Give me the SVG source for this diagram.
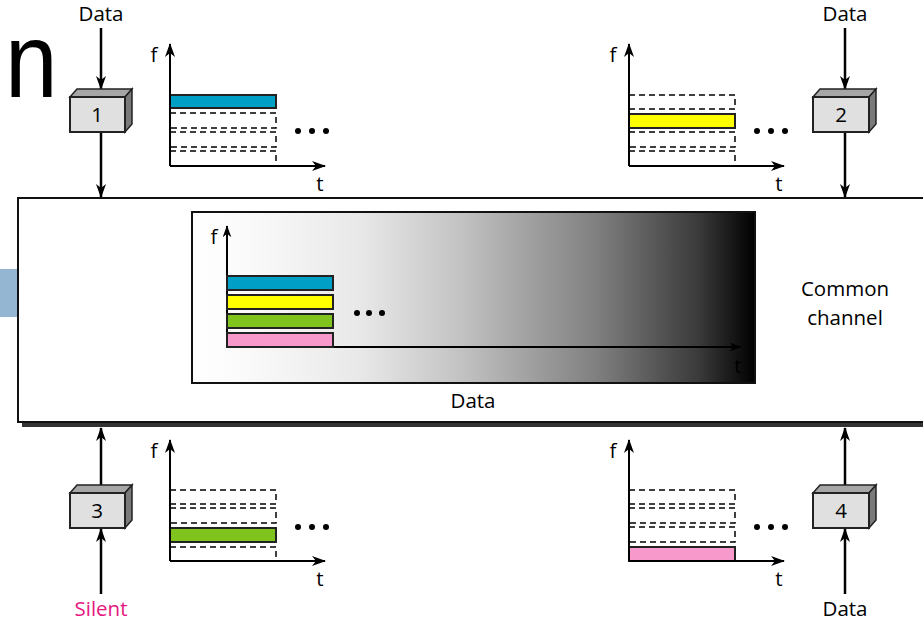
<svg xmlns="http://www.w3.org/2000/svg" width="923" height="622" viewBox="0 0 923 622">
<style>
text{font-family:"Open Sans","DejaVu Sans",sans-serif;fill:#000}
.lbl{font-size:20.5px;text-anchor:middle}
.ax{stroke:#000;stroke-width:2;fill:none}
.ln{stroke:#000;stroke-width:2.5;fill:none}
.slot{fill:none;stroke:#000;stroke-width:1.5;stroke-dasharray:6,4}
.bar{stroke:#222;stroke-width:2}
.front{fill:#e0e0e0;stroke:#222;stroke-width:2}
.top{fill:#a6a6a6;stroke:#222;stroke-width:1.5}
.side{fill:#7a7a7a;stroke:#222;stroke-width:1.5}
.dot{fill:#000}
</style>
<defs>
<marker id="ah" viewBox="0 0 14 10" refX="13" refY="5" markerWidth="14" markerHeight="10" markerUnits="userSpaceOnUse" orient="auto">
<path d="M0,0 L14,5 L0,10 L4,5 z" fill="#000"/>
</marker>
<marker id="ahs" viewBox="0 0 14 10" refX="13" refY="5" markerWidth="12" markerHeight="9" markerUnits="userSpaceOnUse" orient="auto">
<path d="M0,0 L14,5 L0,10 L4,5 z" fill="#000"/>
</marker>
<linearGradient id="gr" x1="0" y1="0" x2="1" y2="0">
<stop offset="0" stop-color="#fff"/>
<stop offset="0.1" stop-color="#fafafa"/>
<stop offset="0.3" stop-color="#e8e8e8"/>
<stop offset="0.48" stop-color="#c2c2c2"/>
<stop offset="0.72" stop-color="#7f7f7f"/>
<stop offset="0.9" stop-color="#3a3a3a"/>
<stop offset="1" stop-color="#000"/>
</linearGradient>
</defs>
<rect width="923" height="622" fill="#fff"/>
<text transform="translate(5,97) scale(0.9,1)" style="font-family:'Liberation Sans',sans-serif;font-size:105px">n</text>
<rect x="0" y="269" width="18" height="48" fill="#94b6d2"/>

<g id="channel">
<rect x="22" y="202" width="910" height="225" fill="#333"/>
<rect x="18" y="198" width="912" height="224" fill="#fff" stroke="#111" stroke-width="2"/>
<rect x="192" y="212" width="563" height="171" fill="url(#gr)" stroke="#111" stroke-width="2"/>
<line x1="227" y1="347" x2="227" y2="226" class="ax" marker-end="url(#ahs)"/>
<line x1="227" y1="347" x2="741" y2="347" class="ax" marker-end="url(#ahs)"/>
<text x="214" y="244" class="lbl">f</text>
<text x="738" y="373" class="lbl">t</text>
<rect x="227" y="276" width="106" height="14" fill="#00a0c6" class="bar"/>
<rect x="227" y="295" width="106" height="14" fill="#ffff00" class="bar"/>
<rect x="227" y="314" width="106" height="14" fill="#7fc31c" class="bar"/>
<rect x="227" y="333" width="106" height="14" fill="#f799cb" class="bar"/>
<circle cx="357" cy="313" r="3" class="dot"/><circle cx="369" cy="313" r="3" class="dot"/><circle cx="382" cy="313" r="3" class="dot"/>
<text x="473" y="408" class="lbl">Data</text>
<text x="845" y="296" class="lbl">Common</text>
<text x="845" y="325" class="lbl">channel</text>
</g>

<g id="connectors">
<line x1="101" y1="28" x2="101" y2="89" class="ln" marker-end="url(#ah)"/>
<line x1="101" y1="131" x2="101" y2="197" class="ln" marker-end="url(#ah)"/>
<line x1="845" y1="28" x2="845" y2="89" class="ln" marker-end="url(#ah)"/>
<line x1="845" y1="131" x2="845" y2="197" class="ln" marker-end="url(#ah)"/>
<line x1="101" y1="487" x2="101" y2="428" class="ln" marker-end="url(#ah)"/>
<line x1="101" y1="594" x2="101" y2="529" class="ln" marker-end="url(#ah)"/>
<line x1="845" y1="487" x2="845" y2="428" class="ln" marker-end="url(#ah)"/>
<line x1="845" y1="594" x2="845" y2="529" class="ln" marker-end="url(#ah)"/>
</g>

<g id="node1">
<path d="M70,97 L77,89 L132,89 L125,97 z" class="top"/>
<path d="M125,97 L132,89 L132,124 L125,132 z" class="side"/>
<rect x="70" y="97" width="55" height="35" class="front"/>
<text x="97" y="122" class="lbl">1</text>
<text x="101" y="21" class="lbl">Data</text>
</g>
<g id="node2">
<path d="M813,97 L820,89 L876,89 L869,97 z" class="top"/>
<path d="M869,97 L876,89 L876,124 L869,132 z" class="side"/>
<rect x="813" y="97" width="56" height="35" class="front"/>
<text x="841" y="122" class="lbl">2</text>
<text x="845" y="21" class="lbl">Data</text>
</g>
<g id="node3">
<path d="M70,493 L77,485 L132,485 L125,493 z" class="top"/>
<path d="M125,493 L132,485 L132,520 L125,528 z" class="side"/>
<rect x="70" y="493" width="55" height="35" class="front"/>
<text x="97" y="518" class="lbl">3</text>
<text x="101" y="616" class="lbl" style="fill:#e6157f">Silent</text>
</g>
<g id="node4">
<path d="M813,493 L820,485 L876,485 L869,493 z" class="top"/>
<path d="M869,493 L876,485 L876,520 L869,528 z" class="side"/>
<rect x="813" y="493" width="56" height="35" class="front"/>
<text x="841" y="518" class="lbl">4</text>
<text x="845" y="616" class="lbl">Data</text>
</g>

<g id="chart1">
<rect x="170" y="113" width="106" height="15" class="slot"/>
<rect x="170" y="132" width="106" height="15" class="slot"/>
<rect x="170" y="151" width="106" height="15" class="slot"/>
<rect x="170" y="95" width="106" height="13" fill="#00a0c6" class="bar"/>
<line x1="170" y1="166" x2="170" y2="44" class="ax" marker-end="url(#ah)"/>
<line x1="170" y1="166" x2="325" y2="166" class="ax" marker-end="url(#ah)"/>
<text x="154" y="62" class="lbl">f</text>
<text x="320" y="191" class="lbl">t</text>
<circle cx="298" cy="131" r="3" class="dot"/><circle cx="312" cy="131" r="3" class="dot"/><circle cx="326" cy="131" r="3" class="dot"/>
</g>
<g id="chart2">
<rect x="629" y="95" width="106" height="14" class="slot"/>
<rect x="629" y="132" width="106" height="15" class="slot"/>
<rect x="629" y="151" width="106" height="15" class="slot"/>
<rect x="629" y="114" width="106" height="14" fill="#ffff00" class="bar"/>
<line x1="629" y1="166" x2="629" y2="44" class="ax" marker-end="url(#ah)"/>
<line x1="629" y1="166" x2="784" y2="166" class="ax" marker-end="url(#ah)"/>
<text x="613" y="62" class="lbl">f</text>
<text x="779" y="191" class="lbl">t</text>
<circle cx="757" cy="131" r="3" class="dot"/><circle cx="771" cy="131" r="3" class="dot"/><circle cx="785" cy="131" r="3" class="dot"/>
</g>
<g id="chart3">
<rect x="170" y="490" width="106" height="14" class="slot"/>
<rect x="170" y="508" width="106" height="15" class="slot"/>
<rect x="170" y="547" width="106" height="14" class="slot"/>
<rect x="170" y="528" width="106" height="14" fill="#7fc31c" class="bar"/>
<line x1="170" y1="561" x2="170" y2="440" class="ax" marker-end="url(#ah)"/>
<line x1="170" y1="561" x2="325" y2="561" class="ax" marker-end="url(#ah)"/>
<text x="154" y="458" class="lbl">f</text>
<text x="320" y="586" class="lbl">t</text>
<circle cx="298" cy="527" r="3" class="dot"/><circle cx="312" cy="527" r="3" class="dot"/><circle cx="326" cy="527" r="3" class="dot"/>
</g>
<g id="chart4">
<rect x="629" y="490" width="106" height="14" class="slot"/>
<rect x="629" y="508" width="106" height="15" class="slot"/>
<rect x="629" y="527" width="106" height="15" class="slot"/>
<rect x="629" y="547" width="106" height="14" fill="#f799cb" class="bar"/>
<line x1="629" y1="561" x2="629" y2="440" class="ax" marker-end="url(#ah)"/>
<line x1="629" y1="561" x2="784" y2="561" class="ax" marker-end="url(#ah)"/>
<text x="613" y="458" class="lbl">f</text>
<text x="779" y="586" class="lbl">t</text>
<circle cx="757" cy="527" r="3" class="dot"/><circle cx="771" cy="527" r="3" class="dot"/><circle cx="785" cy="527" r="3" class="dot"/>
</g>
</svg>
